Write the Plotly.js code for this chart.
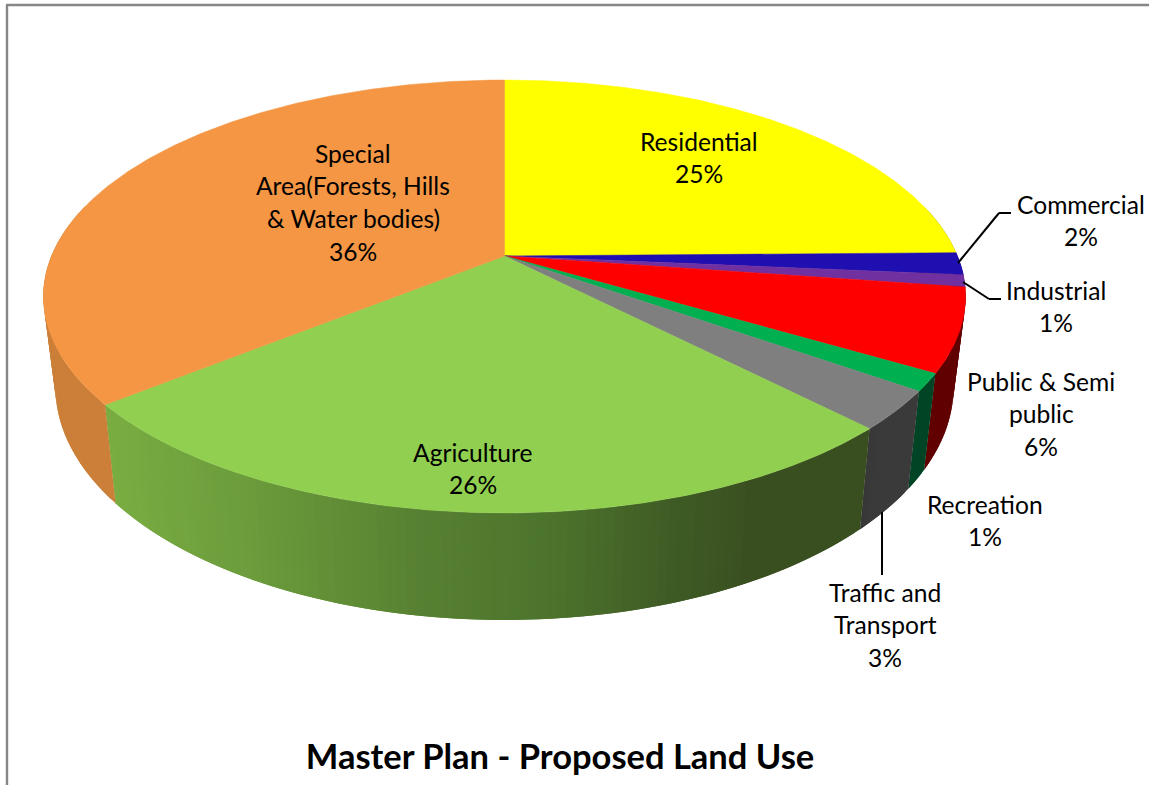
<!DOCTYPE html>
<html>
<head>
<meta charset="utf-8">
<script src="https://cdn.plot.ly/plotly-3.0.1.min.js"></script>
<style>html,body{margin:0;padding:0;background:#fff;overflow:hidden}</style>
</head>
<body>
<div id="chart" style="width:1149px;height:785px"></div>
<script>
// --- data ---
const chartTitle = "Master Plan - Proposed Land Use";
const categories = ["Residential","Commercial","Industrial","Public & Semi public","Recreation","Traffic and Transport","Agriculture","Special Area(Forests, Hills & Water bodies)"];
const shares = [24.75,1.65,0.9,6.2,1.3,2.9,26.49,35.81];

// --- styles ---
const topColors = ["#FFFF00","#200FB0","#7030A0","#FF0000","#00B050","#7F7F7F","#90CF4F","#F49644"];
const wallStops = [
  [[0,"#999900"],[1149,"#999900"]],
  [[0,"#120868"],[1149,"#120868"]],
  [[0,"#432060"],[1149,"#432060"]],
  [[0,"#600000"],[1149,"#600000"]],
  [[0,"#004426"],[1149,"#004426"]],
  [[0,"#333333"],[860,"#333333"],[885,"#3a3a3a"],[1149,"#3a3a3a"]],
  [[100,"#7AAE42"],[250,"#6C9C3C"],[420,"#588232"],[560,"#4C732C"],[680,"#3F5C25"],[760,"#3A4F20"],[1149,"#3A4F20"]],
  [[0,"#CB7F38"],[1149,"#CF8239"]]
];
const labelLines = [
  ["Residential"],["Commercial"],["Industrial"],["Public & Semi","public"],["Recreation"],["Traffic and","Transport"],["Agriculture"],["Special","Area(Forests, Hills","& Water bodies)"]
];
const labelX = [699,1081,1056,1041,985,885,473,353];
const labelY = [141,204,290,381,504,592,452,153];
const lineGap = 32.7;
const labelFont = {family:"Lato, 'Open Sans', sans-serif", size:24.6, color:"#000"};
const leaders = [
  [[958,263],[999,213],[1011,213]],
  [[963,282],[989,299],[1001,299]],
  [[882,512],[882,575]]
];

// --- perspective pie geometry ---
const cx=504.5, cy=256, B=453, A=208.9, k=0.187, depth=87, shrink=0.974;
function topPt(t){const u=Math.sin(t),v=Math.cos(t),w=1+k*v;return [cx+B*u/w, cy-A*v/w];}
function botPt(t){const u=Math.sin(t),v=Math.cos(t),w=1+k*v;return [cx+shrink*B*u/w, cy-A*v/w+depth/w];}
function hex(c){return [1,3,5].map(i=>parseInt(c.substr(i,2),16));}
function colorAt(stops,x){
  if(x<=stops[0][0])return stops[0][1];
  for(let i=1;i<stops.length;i++){
    if(x<=stops[i][0]){
      const f=(x-stops[i-1][0])/(stops[i][0]-stops[i-1][0]);
      const a=hex(stops[i-1][1]),b=hex(stops[i][1]);
      return "rgb("+a.map((p,j)=>Math.round(p+(b[j]-p)*f)).join(",")+")";
    }
  }
  return stops[stops.length-1][1];
}
const total=shares.reduce((a,b)=>a+b,0);
const traces=[];
let cum=0;
const spans=shares.map(s=>{const a=cum/total*2*Math.PI;cum+=s;return [a,cum/total*2*Math.PI];});
const stepAngle=Math.PI/180;

// side walls: only the part turned toward the viewer; strips overlap so no seams show.
// Left-side slices paint from the far end so that the shared edge stays clean.
spans.forEach((sp,i)=>{
  const a0=Math.max(sp[0],Math.PI*0.42), a1=Math.min(sp[1],Math.PI*1.58);
  if(a1<=a0)return;
  const n=Math.max(2,Math.ceil((a1-a0)/stepAngle));
  for(let j=n-1;j>=0;j--){
    const s=a0+(a1-a0)*j/n, e=Math.min(a1,a0+(a1-a0)*(j+2)/n);
    const q=a0+(a1-a0)*(j+1)/n;
    const p=[topPt(s),topPt(e),botPt(e),botPt(s),topPt(s)];
    const col=colorAt(wallStops[i],(topPt(s)[0]+topPt(q)[0])/2);
    traces.push({type:"scatter",mode:"lines",x:p.map(q=>q[0]),y:p.map(q=>q[1]),fill:"toself",fillcolor:col,
      line:{color:col,width:0},hoverinfo:"skip",showlegend:false});
  }
});
// top surface
spans.forEach((sp,i)=>{
  const n=Math.max(8,Math.ceil((sp[1]-sp[0])/(stepAngle/2)));
  const xs=[cx],ys=[cy];
  for(let j=0;j<=n;j++){const q=topPt(sp[0]+(sp[1]-sp[0])*j/n);xs.push(q[0]);ys.push(q[1]);}
  xs.push(cx);ys.push(cy);
  traces.push({type:"scatter",mode:"lines",x:xs,y:ys,fill:"toself",fillcolor:topColors[i],
    line:{color:topColors[i],width:0.5},name:categories[i],
    text:categories[i]+": "+Math.round(shares[i])+"%",hoverinfo:"text",showlegend:false});
});

// labels
const annotations=[];
categories.forEach((c,i)=>{
  const lines=labelLines[i].concat([Math.round(shares[i])+"%"]);
  lines.forEach((t,j)=>annotations.push({xref:"x",yref:"y",x:labelX[i],y:labelY[i]+j*lineGap,text:t,
    showarrow:false,xanchor:"center",yanchor:"middle",font:labelFont}));
});
const shapes=[
  {type:"line",xref:"x",yref:"y",x0:7,x1:7,y0:5,y1:785,line:{color:"#868686",width:2.4}},
  {type:"line",xref:"x",yref:"y",x0:6,x1:1149,y0:5,y1:5,line:{color:"#868686",width:2.4}}
];
leaders.forEach(l=>{for(let j=1;j<l.length;j++)shapes.push({type:"line",xref:"x",yref:"y",
  x0:l[j-1][0],y0:l[j-1][1],x1:l[j][0],y1:l[j][1],line:{color:"#000",width:2}});});

Plotly.newPlot("chart",traces,{
  width:1149,height:785,margin:{l:0,r:0,t:0,b:0},
  paper_bgcolor:"#fff",plot_bgcolor:"#fff",showlegend:false,
  xaxis:{range:[0,1149],visible:false,fixedrange:true},
  yaxis:{range:[785,0],visible:false,fixedrange:true},
  title:{text:"<b>"+chartTitle+"</b>",x:560/1149,xref:"paper",xanchor:"center",y:1-757/785,yref:"paper",yanchor:"middle",
    font:{family:"Lato, 'Open Sans', sans-serif",size:34.5,color:"#000"}},
  annotations:annotations,shapes:shapes,hovermode:"closest"
},{displayModeBar:false});
</script>
</body>
</html>
